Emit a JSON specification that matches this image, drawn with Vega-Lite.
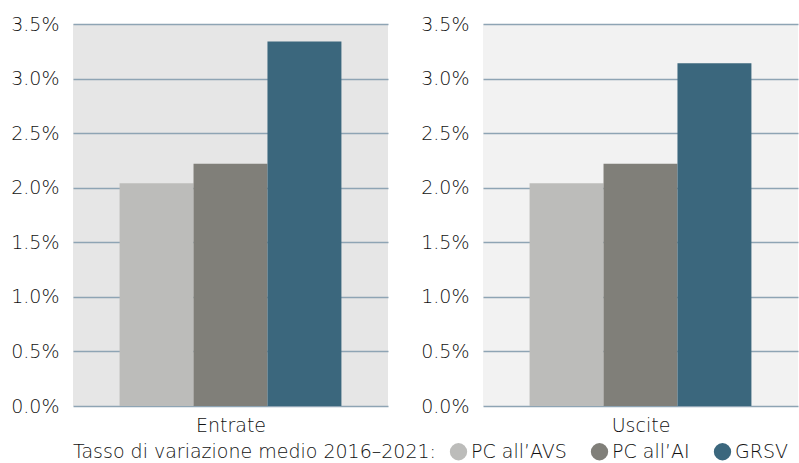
{
  "$schema": "https://vega.github.io/schema/vega-lite/v6.json",
  "padding": {"left": 10, "top": 15, "right": 1, "bottom": 0},
  "autosize": {"type": "pad"},
  "background": "white",
  "config": {
    "font": "DejaVu Sans",
    "axis": {"labelFont": "DejaVu Sans", "labelFontWeight": 300, "labelFontSize": 19, "labelColor": "#111111", "titleFont": "DejaVu Sans", "titleFontWeight": 300, "titleFontSize": 19, "titleColor": "#111111"},
    "legend": {"labelFont": "DejaVu Sans", "labelFontWeight": 300, "labelFontSize": 19, "labelColor": "#111111", "titleFont": "DejaVu Sans", "titleFontWeight": 300, "titleFontSize": 19, "titleColor": "#111111", "titleLimit": 600, "labelLimit": 300},
    "view": {"stroke": null}
  },
  "datasets": {
    "tassi": [
      {"flusso": "Entrate", "serie": "PC all’AVS", "valore": 0.0204},
      {"flusso": "Entrate", "serie": "PC all’AI", "valore": 0.0222},
      {"flusso": "Entrate", "serie": "GRSV", "valore": 0.0334},
      {"flusso": "Uscite", "serie": "PC all’AVS", "valore": 0.0204},
      {"flusso": "Uscite", "serie": "PC all’AI", "valore": 0.0222},
      {"flusso": "Uscite", "serie": "GRSV", "valore": 0.0314}
    ]
  },
  "spacing": 32,
  "hconcat": [
    {
      "data": {"name": "tassi"},
      "transform": [{"filter": "datum.flusso === 'Entrate'"}],
      "width": 315,
      "height": 382,
      "view": {"fill": "#e6e6e6", "stroke": null},
      "mark": {"type": "bar"},
      "encoding": {
        "x": {"field": "serie", "type": "nominal", "sort": ["PC all’AVS", "PC all’AI", "GRSV"], "scale": {"paddingInner": 0, "paddingOuter": 0.63}, "axis": {"labels": false, "ticks": false, "domain": false, "title": "Entrate", "titlePadding": 10}},
        "y": {"field": "valore", "type": "quantitative", "scale": {"domain": [0, 0.035]}, "axis": {"format": ".1%", "values": [0, 0.005, 0.01, 0.015, 0.02, 0.025, 0.03, 0.035], "labelOverlap": false, "ticks": false, "domain": false, "labelPadding": 14, "minExtent": 63, "maxExtent": 63, "title": null, "gridColor": "#8ea4b4", "gridWidth": 1.5}},
        "color": {"field": "serie", "type": "nominal", "sort": ["PC all’AVS", "PC all’AI", "GRSV"], "scale": {"domain": ["PC all’AVS", "PC all’AI", "GRSV"], "range": ["#bcbcba", "#807f79", "#3b677d"]}, "legend": {"title": "Tasso di variazione medio 2016–2021:", "orient": "bottom", "direction": "horizontal", "titleOrient": "left", "symbolType": "circle", "symbolSize": 300, "symbolStrokeWidth": 0, "labelOffset": 3, "columnPadding": 23, "titlePadding": 12, "offset": 7}}
      }
    },
    {
      "data": {"name": "tassi"},
      "transform": [{"filter": "datum.flusso === 'Uscite'"}],
      "width": 315,
      "height": 382,
      "view": {"fill": "#f2f2f2", "stroke": null},
      "mark": {"type": "bar"},
      "encoding": {
        "x": {"field": "serie", "type": "nominal", "sort": ["PC all’AVS", "PC all’AI", "GRSV"], "scale": {"paddingInner": 0, "paddingOuter": 0.63}, "axis": {"labels": false, "ticks": false, "domain": false, "title": "Uscite", "titlePadding": 10}},
        "y": {"field": "valore", "type": "quantitative", "scale": {"domain": [0, 0.035]}, "axis": {"format": ".1%", "values": [0, 0.005, 0.01, 0.015, 0.02, 0.025, 0.03, 0.035], "labelOverlap": false, "ticks": false, "domain": false, "labelPadding": 14, "minExtent": 63, "maxExtent": 63, "title": null, "gridColor": "#8ea4b4", "gridWidth": 1.5}},
        "color": {"field": "serie", "type": "nominal", "sort": ["PC all’AVS", "PC all’AI", "GRSV"], "scale": {"domain": ["PC all’AVS", "PC all’AI", "GRSV"], "range": ["#bcbcba", "#807f79", "#3b677d"]}}
      }
    }
  ]
}
